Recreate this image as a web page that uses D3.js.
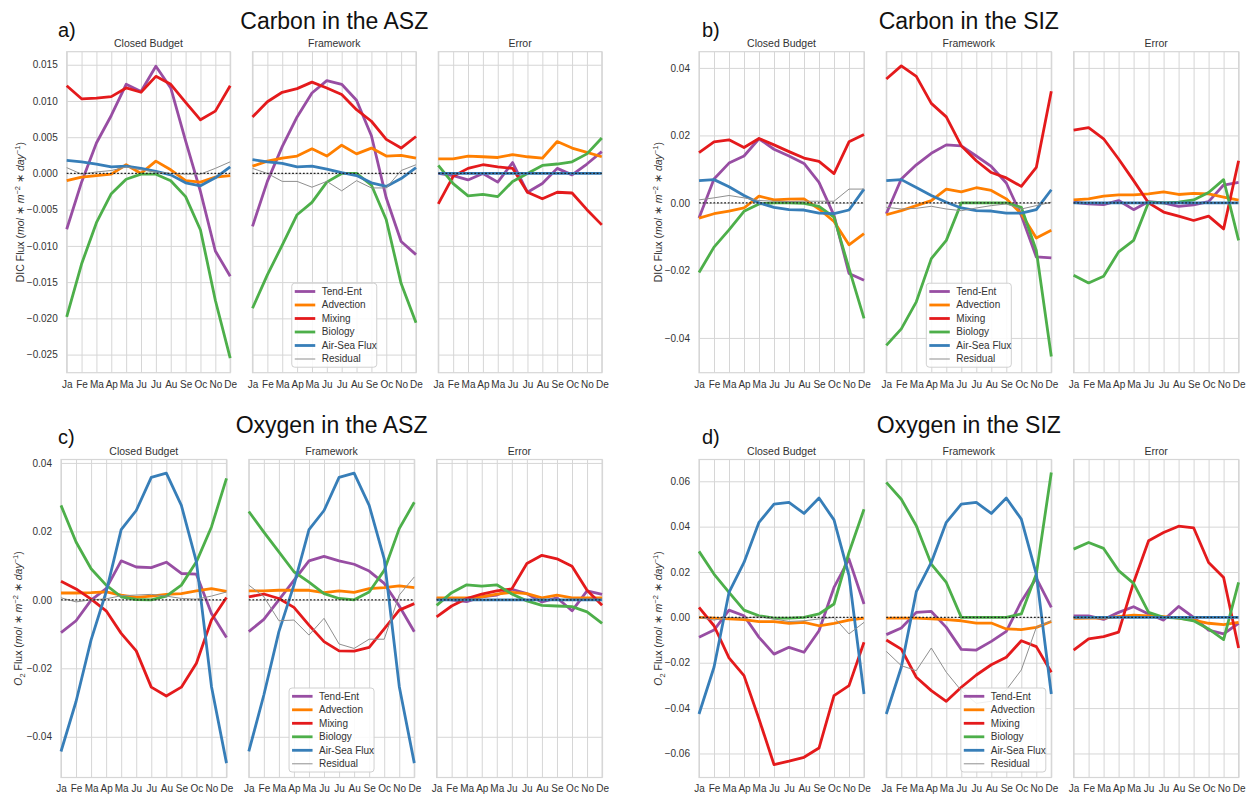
<!DOCTYPE html>
<html>
<head>
<meta charset="utf-8">
<script src="https://cdn.jsdelivr.net/npm/d3@7"></script>
<style>
  body { margin: 0; background: #fff; }
  text { font-family: "Liberation Sans", Arial, Helvetica, sans-serif; }
</style>
</head>
<body>
<svg id="chart" width="1255" height="797"></svg>
<script>
// ---- labels ----
const months = ["Ja","Fe","Ma","Ap","Ma","Ju","Ju","Au","Se","Oc","No","De"];
const seriesNames = ["Tend-Ent","Advection","Mixing","Biology","Air-Sea Flux","Residual"];
const subplotTitles = ["Closed Budget","Framework","Error"];
const panelTitles = ["Carbon in the ASZ","Carbon in the SIZ","Oxygen in the ASZ","Oxygen in the SIZ"];
const panelTags = ["a)","b)","c)","d)"];

// ---- y tick values ----
const ticksDicAsz = [-0.025,-0.020,-0.015,-0.010,-0.005,0,0.005,0.010,0.015];
const ticksDicSiz = [-0.04,-0.02,0,0.02,0.04];
const ticksO2Asz  = [-0.04,-0.02,0,0.02,0.04];
const ticksO2Siz  = [-0.06,-0.04,-0.02,0,0.02,0.04,0.06];

// ---- DIC, ASZ (mol m-2 day-1) ----
const dicAszClosedTend = [-0.0077,-0.0012,0.0042,0.0080,0.0123,0.0113,0.0148,0.0118,0.0045,-0.0025,-0.0107,-0.0142];
const dicAszClosedAdv  = [-0.0010,-0.0005,-0.0003,-0.0001,0.0012,0.0000,0.0017,0.0005,-0.0010,-0.0012,-0.0005,-0.0003];
const dicAszClosedMix  = [0.0121,0.0103,0.0104,0.0106,0.0118,0.0112,0.0134,0.0123,0.0098,0.0074,0.0086,0.0121];
const dicAszClosedBio  = [-0.0198,-0.0125,-0.0068,-0.0028,-0.0008,-0.0001,-0.0001,-0.0010,-0.0032,-0.0078,-0.0175,-0.0255];
const dicAszClosedAir  = [0.0018,0.0016,0.0013,0.0009,0.0010,0.0007,0.0003,-0.0002,-0.0013,-0.0017,-0.0006,0.0009];
const dicAszClosedRes  = [0.0008,-0.0001,0.0002,0.0004,0.0009,0.0005,0.0002,0.0000,-0.0001,-0.0001,0.0007,0.0016];

const dicAszFrameTend = [-0.0073,-0.0011,0.0037,0.0078,0.0111,0.0128,0.0123,0.0101,0.0052,-0.0034,-0.0094,-0.0112];
const dicAszFrameAdv  = [0.0010,0.0017,0.0021,0.0024,0.0034,0.0024,0.0039,0.0027,0.0035,0.0024,0.0025,0.0021];
const dicAszFrameMix  = [0.0078,0.0099,0.0112,0.0117,0.0126,0.0118,0.0109,0.0088,0.0072,0.0047,0.0035,0.0051];
const dicAszFrameBio  = [-0.0186,-0.0140,-0.0099,-0.0057,-0.0040,-0.0012,0.0000,0.0000,-0.0016,-0.0064,-0.0152,-0.0206];
const dicAszFrameAir  = [0.0019,0.0016,0.0014,0.0009,0.0010,0.0006,0.0001,-0.0003,-0.0013,-0.0018,-0.0007,0.0008];
const dicAszFrameRes  = [0.0007,0.0000,-0.0011,-0.0011,-0.0019,-0.0011,-0.0024,-0.0010,-0.0020,-0.0020,0.0004,0.0012];

const dicAszErrTend = [0.0000,-0.0003,-0.0009,0.0000,-0.0012,0.0015,-0.0026,-0.0014,0.0007,-0.0002,0.0013,0.0030];
const dicAszErrAdv  = [0.0020,0.0020,0.0024,0.0023,0.0022,0.0026,0.0023,0.0021,0.0044,0.0035,0.0029,0.0023];
const dicAszErrMix  = [-0.0042,-0.0004,0.0007,0.0012,0.0009,0.0007,-0.0026,-0.0035,-0.0026,-0.0027,-0.0050,-0.0071];
const dicAszErrBio  = [0.0011,-0.0014,-0.0031,-0.0029,-0.0032,-0.0011,0.0000,0.0011,0.0013,0.0016,0.0027,0.0049];
const dicAszErrAir  = [0,0,0,0,0,0,0,0,0,0,0,0];

// ---- DIC, SIZ ----
const dicSizClosedTend = [-0.0045,0.0071,0.0118,0.0139,0.0190,0.0159,0.0139,0.0117,0.0061,-0.0037,-0.0209,-0.0229];
const dicSizClosedAdv  = [-0.0045,-0.0032,-0.0024,-0.0015,0.0020,0.0009,0.0011,0.0012,-0.0018,-0.0055,-0.0124,-0.0091];
const dicSizClosedMix  = [0.0149,0.0181,0.0187,0.0164,0.0191,0.0172,0.0152,0.0133,0.0123,0.0087,0.0181,0.0203];
const dicSizClosedBio  = [-0.0206,-0.0131,-0.0080,-0.0025,-0.0003,0.0000,0.0000,-0.0001,-0.0010,-0.0042,-0.0194,-0.0342];
const dicSizClosedAir  = [0.0066,0.0069,0.0048,0.0022,0.0000,-0.0013,-0.0020,-0.0021,-0.0030,-0.0032,-0.0021,0.0041];
const dicSizClosedRes  = [0.0009,0.0015,0.0022,0.0015,0.0007,0.0005,0.0004,0.0005,0.0005,0.0005,0.0041,0.0041];

const dicSizFrameTend = [-0.0032,0.0071,0.0113,0.0147,0.0172,0.0169,0.0139,0.0108,0.0059,-0.0037,-0.0160,-0.0163];
const dicSizFrameAdv  = [-0.0035,-0.0023,-0.0008,0.0007,0.0041,0.0033,0.0045,0.0037,0.0012,-0.0032,-0.0104,-0.0081];
const dicSizFrameMix  = [0.0367,0.0406,0.0375,0.0295,0.0255,0.0169,0.0125,0.0090,0.0074,0.0049,0.0105,0.0331];
const dicSizFrameBio  = [-0.0422,-0.0373,-0.0293,-0.0165,-0.0111,0.0000,0.0000,0.0000,0.0000,-0.0013,-0.0141,-0.0455];
const dicSizFrameAir  = [0.0066,0.0069,0.0046,0.0022,0.0002,-0.0015,-0.0023,-0.0024,-0.0030,-0.0030,-0.0020,0.0039];
const dicSizFrameRes  = [-0.0013,-0.0018,-0.0016,-0.0010,-0.0018,-0.0023,-0.0015,-0.0008,-0.0003,-0.0018,-0.0008,0.0002];

const dicSizErrTend = [0.0002,-0.0003,-0.0005,0.0007,-0.0020,0.0004,0.0000,-0.0010,-0.0006,0.0004,0.0053,0.0061];
const dicSizErrAdv  = [0.0009,0.0012,0.0020,0.0024,0.0024,0.0027,0.0033,0.0025,0.0028,0.0027,0.0017,0.0008];
const dicSizErrMix  = [0.0216,0.0223,0.0190,0.0130,0.0066,0.0000,-0.0027,-0.0039,-0.0052,-0.0039,-0.0077,0.0125];
const dicSizErrBio  = [-0.0214,-0.0237,-0.0217,-0.0145,-0.0111,0.0002,0.0000,0.0002,0.0009,0.0031,0.0069,-0.0111];
const dicSizErrAir  = [0,0,0,0,0,0,0,0,0,0,0,0];

// ---- O2, ASZ ----
const o2AszClosedTend = [-0.0096,-0.0061,-0.0001,0.0033,0.0114,0.0096,0.0094,0.0110,0.0077,0.0075,-0.0040,-0.0110];
const o2AszClosedAdv  = [0.0020,0.0020,0.0021,0.0023,0.0014,0.0007,0.0011,0.0016,0.0018,0.0026,0.0033,0.0025];
const o2AszClosedMix  = [0.0054,0.0032,0.0002,-0.0032,-0.0098,-0.0149,-0.0255,-0.0281,-0.0255,-0.0185,-0.0059,0.0007];
const o2AszClosedBio  = [0.0276,0.0169,0.0091,0.0043,0.0009,0.0001,0.0000,0.0011,0.0043,0.0111,0.0213,0.0355];
const o2AszClosedAir  = [-0.0443,-0.0297,-0.0117,0.0023,0.0205,0.0261,0.0358,0.0370,0.0276,0.0111,-0.0253,-0.0477];
const o2AszClosedRes  = [0.0006,-0.0006,0.0000,0.0003,0.0012,0.0014,0.0016,0.0011,0.0004,0.0002,0.0011,0.0023];

const o2AszFrameTend = [-0.0093,-0.0057,0.0000,0.0057,0.0114,0.0127,0.0114,0.0104,0.0084,0.0048,-0.0018,-0.0093];
const o2AszFrameAdv  = [0.0026,0.0026,0.0028,0.0028,0.0028,0.0021,0.0026,0.0022,0.0033,0.0036,0.0041,0.0036];
const o2AszFrameMix  = [0.0009,0.0017,0.0004,-0.0022,-0.0074,-0.0122,-0.0149,-0.0150,-0.0139,-0.0085,-0.0030,-0.0011];
const o2AszFrameBio  = [0.0258,0.0198,0.0140,0.0082,0.0052,0.0018,0.0004,0.0000,0.0023,0.0086,0.0208,0.0285];
const o2AszFrameAir  = [-0.0443,-0.0278,-0.0093,0.0043,0.0205,0.0261,0.0358,0.0370,0.0276,0.0120,-0.0253,-0.0477];
const o2AszFrameRes  = [0.0043,0.0009,-0.0061,-0.0059,-0.0103,-0.0054,-0.0129,-0.0142,-0.0115,-0.0115,0.0014,0.0067];

const o2AszErrTend = [0.0004,0.0000,-0.0005,0.0009,0.0014,0.0031,0.0018,-0.0006,0.0006,-0.0032,0.0026,0.0016];
const o2AszErrAdv  = [0.0006,0.0006,0.0006,0.0009,0.0017,0.0022,0.0018,0.0006,0.0014,0.0006,0.0006,0.0006];
const o2AszErrMix  = [-0.0050,-0.0018,0.0004,0.0017,0.0026,0.0032,0.0106,0.0130,0.0120,0.0098,0.0028,-0.0016];
const o2AszErrBio  = [-0.0016,0.0021,0.0044,0.0040,0.0044,0.0017,-0.0003,-0.0016,-0.0018,-0.0020,-0.0035,-0.0069];
const o2AszErrAir  = [0,0,0,0,0,0,0,0,0,0,0,0];

// ---- O2, SIZ ----
const o2SizClosedTend = [-0.0088,-0.0056,0.0032,0.0007,-0.0088,-0.0162,-0.0132,-0.0154,-0.0059,0.0132,0.0257,0.0059];
const o2SizClosedAdv  = [0.0000,-0.0003,-0.0007,-0.0010,-0.0019,-0.0019,-0.0026,-0.0022,-0.0037,-0.0026,-0.0012,-0.0003];
const o2SizClosedMix  = [0.0044,-0.0037,-0.0179,-0.0257,-0.0448,-0.0649,-0.0634,-0.0617,-0.0576,-0.0345,-0.0301,-0.0110];
const o2SizClosedBio  = [0.0291,0.0191,0.0110,0.0032,0.0007,-0.0003,-0.0003,0.0000,0.0015,0.0059,0.0286,0.0477];
const o2SizClosedAir  = [-0.0426,-0.0220,0.0110,0.0242,0.0419,0.0499,0.0507,0.0458,0.0526,0.0430,0.0184,-0.0338];
const o2SizClosedRes  = [0.0000,-0.0012,0.0000,-0.0003,0.0003,-0.0007,-0.0018,-0.0015,-0.0007,0.0000,-0.0073,-0.0022];

const o2SizFrameTend = [-0.0076,-0.0047,0.0022,0.0026,-0.0044,-0.0141,-0.0144,-0.0106,-0.0062,0.0070,0.0173,0.0044];
const o2SizFrameAdv  = [-0.0003,-0.0003,-0.0003,-0.0007,-0.0010,-0.0015,-0.0025,-0.0025,-0.0051,-0.0054,-0.0044,-0.0018];
const o2SizFrameMix  = [-0.0100,-0.0140,-0.0264,-0.0323,-0.0370,-0.0308,-0.0254,-0.0209,-0.0176,-0.0103,-0.0129,-0.0242];
const o2SizFrameBio  = [0.0595,0.0521,0.0404,0.0235,0.0154,0.0000,0.0000,0.0000,0.0000,0.0015,0.0191,0.0639];
const o2SizFrameAir  = [-0.0426,-0.0220,0.0113,0.0242,0.0419,0.0499,0.0507,0.0458,0.0526,0.0433,0.0191,-0.0338];
const o2SizFrameRes  = [-0.0150,-0.0213,-0.0235,-0.0135,-0.0242,-0.0323,-0.0379,-0.0370,-0.0320,-0.0232,-0.0044,-0.0015];

const o2SizErrTend = [0.0007,0.0007,-0.0009,0.0022,0.0047,0.0015,-0.0012,0.0048,0.0000,-0.0056,-0.0073,-0.0026];
const o2SizErrAdv  = [-0.0004,-0.0003,-0.0003,0.0003,0.0010,0.0007,0.0003,-0.0003,-0.0012,-0.0026,-0.0032,-0.0022];
const o2SizErrMix  = [-0.0144,-0.0095,-0.0085,-0.0065,0.0154,0.0338,0.0374,0.0402,0.0395,0.0242,0.0176,-0.0135];
const o2SizErrBio  = [0.0301,0.0330,0.0304,0.0206,0.0150,0.0022,0.0000,-0.0003,-0.0015,-0.0051,-0.0098,0.0154];
const o2SizErrAir  = [0,0,0,0,0,0,0,0,0,0,0,0];

// ---- styling ----
const seriesColors = ["#984ea3","#ff7f00","#e41a1c","#4daf4a","#377eb8","#8f8f8f"];
const seriesWidths = [2.8,2.8,2.8,2.8,2.8,1.0];
const gridColor = "#d6d6d6";
const textColor = "#333";
const gap = 22.3;

// panel layout + the series that belong to each subplot
const panels = [
  { species: "DIC", left: 66.7, w: 163.5, top: 51.7, bottom: 372.7, domain: [-0.0275, 0.0168],
    ticks: ticksDicAsz, fmt: d3.format(".3f"), labelX: 24, titleY: 29, tagY: 37, legend: "center", monthPad: 8,
    subs: [
      [dicAszClosedTend, dicAszClosedAdv, dicAszClosedMix, dicAszClosedBio, dicAszClosedAir, dicAszClosedRes],
      [dicAszFrameTend, dicAszFrameAdv, dicAszFrameMix, dicAszFrameBio, dicAszFrameAir, dicAszFrameRes],
      [dicAszErrTend, dicAszErrAdv, dicAszErrMix, dicAszErrBio, dicAszErrAir]
    ] },
  { species: "DIC", left: 699, w: 165, top: 51.7, bottom: 372.7, domain: [-0.0503, 0.0448],
    ticks: ticksDicSiz, fmt: d3.format(".2f"), labelX: 662, titleY: 29, tagY: 37, legend: "center", monthPad: 8,
    subs: [
      [dicSizClosedTend, dicSizClosedAdv, dicSizClosedMix, dicSizClosedBio, dicSizClosedAir, dicSizClosedRes],
      [dicSizFrameTend, dicSizFrameAdv, dicSizFrameMix, dicSizFrameBio, dicSizFrameAir, dicSizFrameRes],
      [dicSizErrTend, dicSizErrAdv, dicSizErrMix, dicSizErrBio, dicSizErrAir]
    ] },
  { species: "O2", left: 61, w: 165.5, top: 459.5, bottom: 777.5, domain: [-0.0519, 0.0410],
    ticks: ticksO2Asz, fmt: d3.format(".2f"), labelX: 22, titleY: 433, tagY: 444, legend: "center", monthPad: 7,
    subs: [
      [o2AszClosedTend, o2AszClosedAdv, o2AszClosedMix, o2AszClosedBio, o2AszClosedAir, o2AszClosedRes],
      [o2AszFrameTend, o2AszFrameAdv, o2AszFrameMix, o2AszFrameBio, o2AszFrameAir, o2AszFrameRes],
      [o2AszErrTend, o2AszErrAdv, o2AszErrMix, o2AszErrBio, o2AszErrAir]
    ] },
  { species: "O2", left: 699, w: 165, top: 459.5, bottom: 777.5, domain: [-0.0706, 0.0696],
    ticks: ticksO2Siz, fmt: d3.format(".2f"), labelX: 662, titleY: 433, tagY: 444, legend: "right", monthPad: 7,
    subs: [
      [o2SizClosedTend, o2SizClosedAdv, o2SizClosedMix, o2SizClosedBio, o2SizClosedAir, o2SizClosedRes],
      [o2SizFrameTend, o2SizFrameAdv, o2SizFrameMix, o2SizFrameBio, o2SizFrameAir, o2SizFrameRes],
      [o2SizErrTend, o2SizErrAdv, o2SizErrMix, o2SizErrBio, o2SizErrAir]
    ] }
];

const svg = d3.select("#chart");
svg.append("rect").attr("width", 1255).attr("height", 797).attr("fill", "#fff");

function yAxisLabel(g, species, x, yc) {
  const t = g.append("text")
    .attr("transform", `translate(${x},${yc}) rotate(-90)`)
    .attr("text-anchor", "middle").attr("font-size", 10.5).attr("fill", textColor);
  if (species === "DIC") {
    t.append("tspan").text("DIC Flux (");
  } else {
    t.append("tspan").attr("font-style", "italic").text("O");
    t.append("tspan").attr("font-size", 7.5).attr("dy", 2.5).text("2");
    t.append("tspan").attr("dy", -2.5).text(" Flux (");
  }
  t.append("tspan").attr("font-style", "italic").text("mol");
  t.append("tspan").text(" \u2217 ");
  t.append("tspan").attr("font-style", "italic").text("m");
  t.append("tspan").attr("font-size", 7.5).attr("dy", -4).text("\u22122");
  t.append("tspan").attr("dy", 4).text(" \u2217 ");
  t.append("tspan").attr("font-style", "italic").text("day");
  t.append("tspan").attr("font-size", 7.5).attr("dy", -4).text("\u22121");
  t.append("tspan").attr("dy", 4).text(")");
}

panels.forEach((p, pi) => {
  const y = d3.scaleLinear().domain(p.domain).range([p.bottom, p.top]);
  const h = p.bottom - p.top;
  const panelRight = p.left + 3 * p.w + 2 * gap;
  const pg = svg.append("g");

  // panel title and tag
  pg.append("text").attr("x", (p.left + panelRight) / 2).attr("y", p.titleY)
    .attr("text-anchor", "middle").attr("font-size", 23).attr("fill", "#111").text(panelTitles[pi]);
  pg.append("text").attr("x", pi % 2 === 0 ? 58 : 702).attr("y", p.tagY)
    .attr("font-size", 20).attr("fill", "#111").text(panelTags[pi]);

  yAxisLabel(pg, p.species, p.labelX, (p.top + p.bottom) / 2);

  p.subs.forEach((series, si) => {
    const x0 = p.left + si * (p.w + gap);
    const x = d3.scaleLinear().domain([0, 11]).range([x0, x0 + p.w]);
    const g = pg.append("g");

    // horizontal grid
    g.append("g").attr("transform", `translate(${x0},0)`)
      .call(d3.axisLeft(y).tickValues(p.ticks).tickSize(-p.w).tickFormat(""))
      .call(a => a.select(".domain").remove())
      .call(a => a.selectAll("line").attr("stroke", gridColor).attr("stroke-width", 1));
    // vertical grid
    g.append("g").attr("transform", `translate(0,${p.bottom})`)
      .call(d3.axisBottom(x).tickValues(d3.range(12)).tickSize(-h).tickFormat(""))
      .call(a => a.select(".domain").remove())
      .call(a => a.selectAll("line").attr("stroke", gridColor).attr("stroke-width", 1));
    // frame
    g.append("rect").attr("x", x0).attr("y", p.top).attr("width", p.w).attr("height", h)
      .attr("fill", "none").attr("stroke", gridColor).attr("stroke-width", 1.2);

    // month labels
    g.append("g").attr("transform", `translate(0,${p.bottom})`)
      .call(d3.axisBottom(x).tickValues(d3.range(12)).tickSize(0).tickPadding(p.monthPad).tickFormat(i => months[i]))
      .call(a => a.select(".domain").remove())
      .call(a => a.selectAll("text").attr("font-size", 10).attr("fill", textColor)
        .attr("font-family", "Liberation Sans, Arial, sans-serif"));

    // value labels on the first subplot only
    if (si === 0) {
      g.append("g").attr("transform", `translate(${x0},0)`)
        .call(d3.axisLeft(y).tickValues(p.ticks).tickSize(0).tickPadding(9).tickFormat(p.fmt))
        .call(a => a.select(".domain").remove())
        .call(a => a.selectAll("text").attr("font-size", 10).attr("fill", textColor)
          .attr("font-family", "Liberation Sans, Arial, sans-serif"));
    }

    // subplot title
    g.append("text").attr("x", x0 + p.w / 2).attr("y", p.top - 5)
      .attr("text-anchor", "middle").attr("font-size", 10.5).attr("fill", textColor).text(subplotTitles[si]);

    // series lines
    const line = d3.line().x((d, j) => x(j)).y(d => y(d));
    series.forEach((vals, k) => {
      g.append("path").datum(vals).attr("d", line)
        .attr("fill", "none").attr("stroke", seriesColors[k])
        .attr("stroke-width", seriesWidths[k]).attr("stroke-linejoin", "round");
    });

    // zero reference
    g.append("line").attr("x1", x0).attr("x2", x0 + p.w).attr("y1", y(0)).attr("y2", y(0))
      .attr("stroke", "#222").attr("stroke-width", 1.2).attr("stroke-dasharray", "1.8,1.8");

    // legend on the framework subplot
    if (si === 1) {
      const bw = 85, bh = 84;
      const bx = p.legend === "right" ? x0 + p.w - 5.5 - bw : x0 + p.w / 2 - bw / 2;
      const by = p.bottom - 5.5 - bh;
      const lg = g.append("g").attr("transform", `translate(${bx},${by})`);
      lg.append("rect").attr("width", bw).attr("height", bh).attr("rx", 3)
        .attr("fill", "#fff").attr("fill-opacity", 0.85).attr("stroke", "#d0d0d0");
      seriesNames.forEach((name, k) => {
        const ry = 8.3 + k * 13.5;
        lg.append("line").attr("x1", 3).attr("x2", 23.5).attr("y1", ry).attr("y2", ry)
          .attr("stroke", seriesColors[k]).attr("stroke-width", seriesWidths[k]);
        lg.append("text").attr("x", 30).attr("y", ry).attr("dy", "0.35em")
          .attr("font-size", 10).attr("fill", textColor).text(name);
      });
    }
  });
});
</script>
</body>
</html>
